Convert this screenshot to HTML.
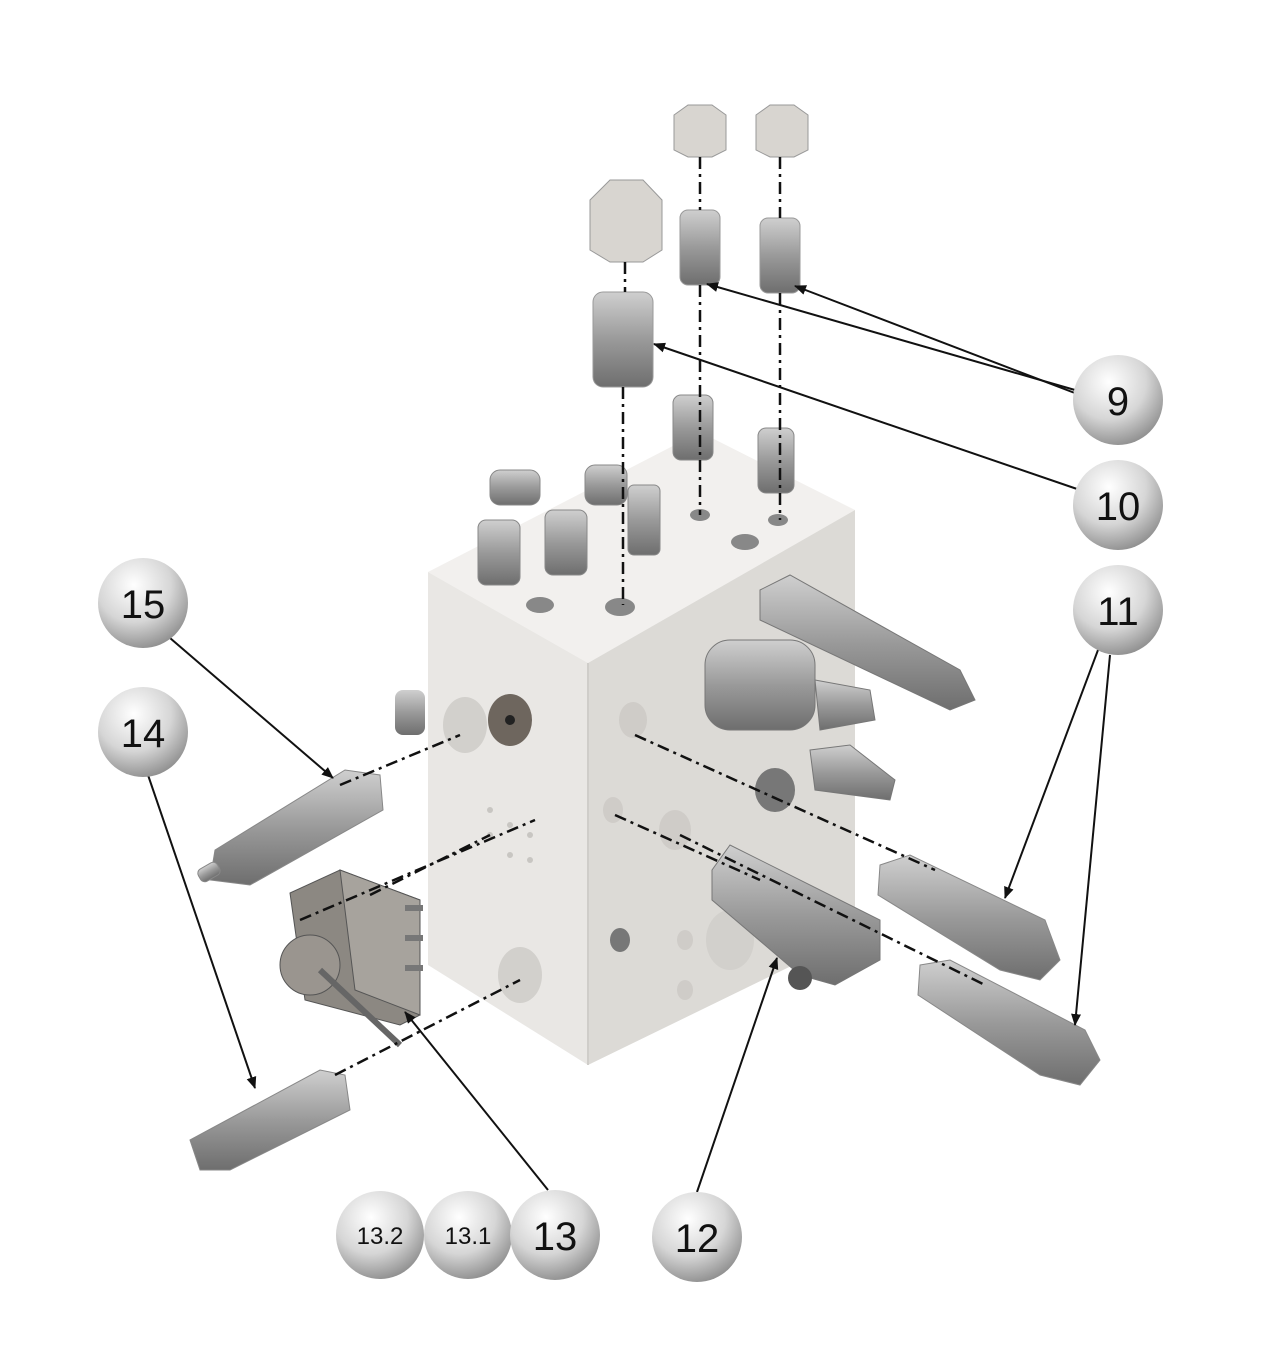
<!DOCTYPE html>
<html><head><meta charset="utf-8"><style>
html,body{margin:0;padding:0;background:#fff}
svg{display:block}
text{font-family:"Liberation Sans",sans-serif;fill:#111}
</style></head><body>
<svg width="1278" height="1351" viewBox="0 0 1278 1351" xmlns="http://www.w3.org/2000/svg">
<defs>
<radialGradient id="ball" cx="40%" cy="30%" r="75%">
<stop offset="0" stop-color="#ffffff"/><stop offset="0.55" stop-color="#d6d6d6"/><stop offset="1" stop-color="#8a8a8a"/>
</radialGradient>
<linearGradient id="metal" x1="0" y1="0" x2="0" y2="1">
<stop offset="0" stop-color="#cfcfcf"/><stop offset="0.5" stop-color="#9a9a9a"/><stop offset="1" stop-color="#6e6e6e"/>
</linearGradient>
<linearGradient id="metalx" x1="0" y1="0" x2="1" y2="0">
<stop offset="0" stop-color="#777"/><stop offset="0.5" stop-color="#cfcfcf"/><stop offset="1" stop-color="#777"/>
</linearGradient>
<marker id="ar" markerWidth="12" markerHeight="10" refX="11" refY="5" orient="auto" markerUnits="userSpaceOnUse">
<path d="M0,0 L12,5 L0,10 z" fill="#111"/></marker>
</defs>

<!-- block -->
<polygon points="428,572 700,432 855,510 588,663" fill="#f2f0ee"/>
<polygon points="428,572 588,663 588,1065 428,965" fill="#e9e7e4"/>
<polygon points="588,663 855,510 855,935 588,1065" fill="#dcdad6"/>
<line x1="588" y1="663" x2="588" y2="1065" stroke="#cfcdc9" stroke-width="2"/>

<!-- holes front -->
<ellipse cx="465" cy="725" rx="22" ry="28" fill="#d2d0cc"/>
<ellipse cx="510" cy="720" rx="22" ry="26" fill="#6e665e"/>
<circle cx="510" cy="720" r="5" fill="#222"/>
<ellipse cx="520" cy="975" rx="22" ry="28" fill="#d2d0cc"/>
<g fill="#c8c6c2"><circle cx="490" cy="810" r="3"/><circle cx="510" cy="825" r="3"/><circle cx="490" cy="835" r="3"/><circle cx="510" cy="855" r="3"/><circle cx="530" cy="860" r="3"/><circle cx="530" cy="835" r="3"/></g>
<!-- holes right -->
<ellipse cx="633" cy="720" rx="14" ry="18" fill="#cfccc8"/>
<ellipse cx="613" cy="810" rx="10" ry="13" fill="#cfccc8"/>
<ellipse cx="675" cy="830" rx="16" ry="20" fill="#cfccc8"/>
<ellipse cx="620" cy="940" rx="10" ry="12" fill="#777"/>
<ellipse cx="685" cy="940" rx="8" ry="10" fill="#cfccc8"/>
<ellipse cx="685" cy="990" rx="8" ry="10" fill="#cfccc8"/>
<ellipse cx="730" cy="940" rx="24" ry="30" fill="#d2d0cc"/>
<ellipse cx="775" cy="790" rx="20" ry="22" fill="#777"/>

<!-- top fittings -->
<g fill="url(#metal)" stroke="#888" stroke-width="1">
<rect x="478" y="520" width="42" height="65" rx="8"/>
<rect x="545" y="510" width="42" height="65" rx="8"/>
<rect x="628" y="485" width="32" height="70" rx="6"/>
<rect x="585" y="465" width="42" height="40" rx="10"/>
<rect x="673" y="395" width="40" height="65" rx="8"/>
<rect x="758" y="428" width="36" height="65" rx="8"/>
<rect x="490" y="470" width="50" height="35" rx="10"/>
</g>
<g fill="#888"><ellipse cx="540" cy="605" rx="14" ry="8"/><ellipse cx="620" cy="607" rx="15" ry="9"/><ellipse cx="745" cy="542" rx="14" ry="8"/><ellipse cx="700" cy="515" rx="10" ry="6"/><ellipse cx="778" cy="520" rx="10" ry="6"/></g>

<!-- right side cartridges -->
<g fill="url(#metal)" stroke="#777">
<polygon points="760,590 790,575 960,670 975,700 950,710 760,620"/>
<rect x="705" y="640" width="110" height="90" rx="25"/>
<polygon points="815,680 870,690 875,720 820,730"/>
<polygon points="810,750 850,745 895,780 890,800 815,790"/>
<polygon points="712,870 730,845 880,920 880,960 835,985 800,975 712,900"/>
</g>
<circle cx="800" cy="978" r="12" fill="#555"/>

<!-- item 11 -->
<g fill="url(#metal)" stroke="#888">
<polygon points="880,865 910,855 1045,920 1060,960 1040,980 1000,970 878,895"/>
<polygon points="920,965 950,960 1085,1030 1100,1060 1080,1085 1040,1075 918,995"/>
</g>
<!-- item 15 -->
<g fill="url(#metal)" stroke="#888">
<polygon points="215,850 345,770 380,775 383,810 250,885 210,880"/>
<rect x="198" y="865" width="22" height="14" rx="5" transform="rotate(-30 209 872)"/>
</g>
<!-- item 14 -->
<g fill="url(#metal)" stroke="#888">
<polygon points="190,1140 320,1070 345,1075 350,1110 230,1170 200,1170"/>
</g>
<!-- item 13 -->
<g stroke="#555">
<polygon points="290,893 340,870 420,900 420,1015 400,1025 305,1000" fill="#8c8882"/>
<polygon points="340,870 420,900 420,1015 355,990" fill="#a7a39d"/>
<circle cx="310" cy="965" r="30" fill="#9a958f"/>
<line x1="320" y1="970" x2="400" y2="1045" stroke="#666" stroke-width="6"/>
</g>
<g fill="#777"><rect x="405" y="905" width="18" height="6"/><rect x="405" y="935" width="18" height="6"/><rect x="405" y="965" width="18" height="6"/></g>
<rect x="395" y="690" width="30" height="45" rx="8" fill="url(#metal)"/>

<!-- exploded top parts -->
<g fill="url(#metal)" stroke="#999">
<polygon points="590,200 610,180 643,180 662,200 662,250 643,262 610,262 590,250" fill="#d8d5d0"/>
<polygon points="674,115 688,105 712,105 726,115 726,150 712,157 688,157 674,150" fill="#d8d5d0"/>
<polygon points="756,115 770,105 794,105 808,115 808,150 794,157 770,157 756,150" fill="#d8d5d0"/>
<rect x="593" y="292" width="60" height="95" rx="10"/>
<rect x="680" y="210" width="40" height="75" rx="8"/>
<rect x="760" y="218" width="40" height="75" rx="8"/>
</g>

<!-- dash-dot center lines -->
<g stroke="#111" stroke-width="2.5" stroke-dasharray="12,5,3,5" fill="none">
<line x1="625" y1="262" x2="625" y2="292"/>
<line x1="623" y1="387" x2="623" y2="605"/>
<line x1="700" y1="157" x2="700" y2="210"/>
<line x1="700" y1="285" x2="700" y2="515"/>
<line x1="780" y1="157" x2="780" y2="218"/>
<line x1="780" y1="293" x2="780" y2="520"/>
<line x1="635" y1="735" x2="935" y2="870"/>
<line x1="615" y1="815" x2="760" y2="880"/>
<line x1="680" y1="835" x2="985" y2="985"/>
<line x1="340" y1="785" x2="460" y2="735"/>
<line x1="370" y1="895" x2="490" y2="835"/>
<line x1="335" y1="1075" x2="520" y2="980"/>
<line x1="300" y1="920" x2="535" y2="820"/>
</g>

<!-- leader lines -->
<g stroke="#111" stroke-width="2" fill="none" marker-end="url(#ar)">
<line x1="1075" y1="390" x2="707" y2="284"/>
<line x1="1080" y1="395" x2="795" y2="286"/>
<line x1="1080" y1="490" x2="654" y2="344"/>
<line x1="1098" y1="650" x2="1005" y2="898"/>
<line x1="1110" y1="655" x2="1075" y2="1025"/>
<line x1="170" y1="638" x2="333" y2="778"/>
<line x1="148" y1="775" x2="255" y2="1088"/>
<line x1="548" y1="1190" x2="405" y2="1012"/>
<line x1="697" y1="1192" x2="777" y2="958"/>
</g>

<!-- balloons -->
<g>
<circle cx="1118" cy="400" r="45" fill="url(#ball)"/><text x="1118" y="415" font-size="40" text-anchor="middle">9</text>
<circle cx="1118" cy="505" r="45" fill="url(#ball)"/><text x="1118" y="520" font-size="40" text-anchor="middle">10</text>
<circle cx="1118" cy="610" r="45" fill="url(#ball)"/><text x="1118" y="625" font-size="40" text-anchor="middle">11</text>
<circle cx="143" cy="603" r="45" fill="url(#ball)"/><text x="143" y="618" font-size="40" text-anchor="middle">15</text>
<circle cx="143" cy="732" r="45" fill="url(#ball)"/><text x="143" y="747" font-size="40" text-anchor="middle">14</text>
<circle cx="380" cy="1235" r="44" fill="url(#ball)"/><text x="380" y="1244" font-size="24" text-anchor="middle">13.2</text>
<circle cx="468" cy="1235" r="44" fill="url(#ball)"/><text x="468" y="1244" font-size="24" text-anchor="middle">13.1</text>
<circle cx="555" cy="1235" r="45" fill="url(#ball)"/><text x="555" y="1250" font-size="40" text-anchor="middle">13</text>
<circle cx="697" cy="1237" r="45" fill="url(#ball)"/><text x="697" y="1252" font-size="40" text-anchor="middle">12</text>
</g>
</svg>
</body></html>
